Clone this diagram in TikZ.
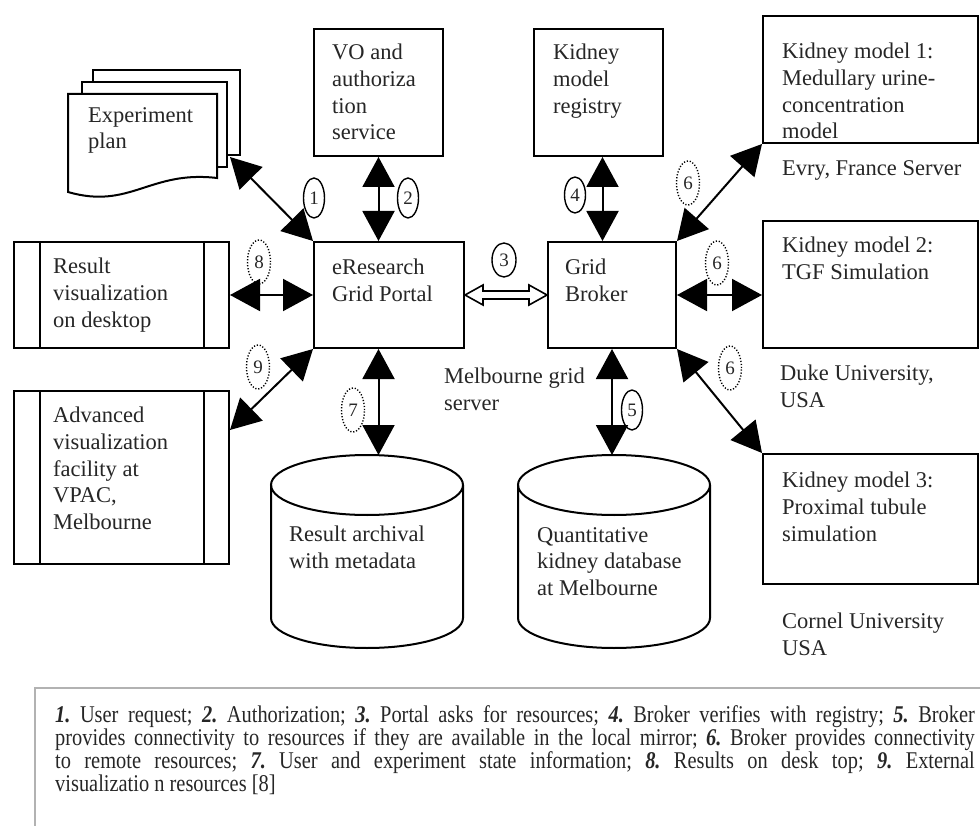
\documentclass[tikz,border=0pt]{standalone}
\usepackage{fontspec}
\setmainfont{Liberation Serif}
\usetikzlibrary{arrows.meta,calc,shapes.geometric}
\begin{document}
\begin{tikzpicture}[x=1pt,y=-1pt,
  box/.style={draw, line width=2pt, fill=white, anchor=north west, inner sep=0pt},
  txt/.style={anchor=north west, align=left, inner sep=0pt, text=black!85,
    font=\fontsize{22.5}{26.7}\selectfont},
  num/.style={ellipse, draw, line width=1.4pt, minimum width=21pt, minimum height=40pt,
    inner sep=0pt, text=black!85, font=\fontsize{19}{20}\selectfont},
  dnum/.style={num, dash pattern=on 1.2pt off 1.8pt},
  link/.style={line width=2pt, {Triangle[length=30pt,width=32pt]}-{Triangle[length=30pt,width=32pt]}},
  leg/.style={anchor=base west, inner sep=0pt, text=black!85, font=\fontsize{24}{23}\selectfont\frenchspacing},
]
\useasboundingbox (0,0) rectangle (980,826);

% ---- experiment plan (stack of documents)
\draw[line width=2pt, fill=white] (93,70) rectangle (240,155);
\draw[line width=2pt, fill=white] (82,82) rectangle (227,167);
\draw[line width=2pt, fill=white] (68,94) -- (217,94) -- (217,178)
  .. controls (150,170) and (130,210) .. (68,192) -- cycle;
\node[txt] (plan) at (88,107) {Experiment\\plan};
\coordinate (planc) at (230,157);

% ---- boxes
\node[box, minimum width=129pt, minimum height=127pt] (vo) at (313,28) {};
\node[txt] at (332,44) {VO and\\authoriza\\tion\\service};

\node[box, minimum width=129pt, minimum height=127pt] (registry) at (533,28) {};
\node[txt] at (553,44) {Kidney\\model\\registry};

\node[box, minimum width=215pt, minimum height=127pt] (km1) at (762,15) {};
\node[txt] at (782,43) {Kidney model 1:\\Medullary urine-\\concentration\\model};
\node[txt] at (782,160) {Evry, France Server};

\node[box, minimum width=215pt, minimum height=127pt] (km2) at (762,220) {};
\node[txt] at (782,237) {Kidney model 2:\\TGF Simulation};
\node[txt] at (780,365) {Duke University,\\USA};

\node[box, minimum width=215pt, minimum height=130pt] (km3) at (762,453) {};
\node[txt] at (782,472) {Kidney model 3:\\Proximal tubule\\simulation};
\node[txt] at (782,613) {Cornel University\\USA};

\node[box, minimum width=150pt, minimum height=106pt] (portal) at (313,241) {};
\node[txt] at (332,259) {eResearch\\Grid Portal};

\node[box, minimum width=128pt, minimum height=106pt] (broker) at (547,241) {};
\node[txt] at (565,259) {Grid\\Broker};

\node[txt] (mel) at (444,368) {Melbourne grid\\server};

\node[box, minimum width=215pt, minimum height=106pt] (desk) at (13,241) {};
\draw[line width=2pt] ($(desk.north west)+(27,0)$) -- ($(desk.south west)+(27,0)$);
\draw[line width=2pt] ($(desk.north east)+(-26,0)$) -- ($(desk.south east)+(-26,0)$);
\node[txt] at (53,258) {Result\\visualization\\on desktop};

\node[box, minimum width=215pt, minimum height=173pt] (adv) at (13,390) {};
\draw[line width=2pt] ($(adv.north west)+(27,0)$) -- ($(adv.south west)+(27,0)$);
\draw[line width=2pt] ($(adv.north east)+(-26,0)$) -- ($(adv.south east)+(-26,0)$);
\node[txt] at (53,407) {Advanced\\visualization\\facility at\\VPAC,\\Melbourne};

% ---- databases (cylinders)
\coordinate (archc) at (367,485);
\coordinate (archtop) at (367,455);
\draw[line width=2pt, fill=white] (271,485) -- (271,618)
  arc[start angle=180, end angle=0, x radius=96, y radius=30] -- (463,485);
\draw[line width=2pt] (archc) ellipse [x radius=96, y radius=30];
\node[txt] at (289,526) {Result archival\\with metadata};

\coordinate (quantc) at (614,485);
\coordinate (quanttop) at (614,455);
\draw[line width=2pt, fill=white] (518,485) -- (518,618)
  arc[start angle=180, end angle=0, x radius=96, y radius=30] -- (710,485);
\draw[line width=2pt] (quantc) ellipse [x radius=96, y radius=30];
\node[txt] at (537,527) {Quantitative\\kidney database\\at Melbourne};

% ---- connectors
\draw[link] (planc) -- (portal.north west);
\draw[link] (vo.south) -- (vo.south |- portal.north);
\coordinate (r4) at ($(registry.south)+(4,0)$);
\draw[link] (r4) -- (r4 |- broker.north);
\draw[link] (broker.south) -- (broker.south |- quanttop);
\draw[link] (vo.south |- portal.south) -- (vo.south |- archtop);
\draw[link] (broker.north east) -- (km1.south west);
\draw[link] (broker.east) -- (broker.east -| km2.west);
\draw[link] (broker.south east) -- (km3.north west);
\draw[link] (desk.east) -- (desk.east -| portal.west);
\draw[link] (portal.south west) -- ($(adv.north east)+(0,40)$);

% hollow double arrow between portal and broker
\draw[line width=1.6pt, fill=white, line join=miter]
  (portal.east) -- ++(18,-10) -- ++(0,6) -- ($(broker.west)+(-18,-4)$) -- ++(0,-6)
  -- (broker.west) -- ++(-18,10) -- ++(0,-6) -- ($(portal.east)+(18,4)$) -- ++(0,6) -- cycle;

% ---- step numbers
\node[num] (n1) at (314,198) {1};
\node[num] (n2) at (408,198) {2};
\node[num, minimum width=24pt, minimum height=34pt] (n3) at (504,260) {3};
\node[num, minimum height=36pt] (n4) at (575,195) {4};
\node[num] (n5) at (632,410) {5};
\node[dnum, minimum width=23pt, minimum height=44pt] (n6a) at (688,183) {6};
\node[dnum, minimum width=23pt, minimum height=44pt] (n6b) at (717,263) {6};
\node[dnum, minimum width=23pt, minimum height=44pt] (n6c) at (730,368) {6};
\node[dnum, minimum width=23pt, minimum height=44pt] (n7) at (353,410) {7};
\node[dnum, minimum width=23pt, minimum height=44pt] (n8) at (259,262) {8};
\node[dnum, minimum width=23pt, minimum height=44pt] (n9) at (258,367) {9};

% ---- legend
\draw[gray!60, line width=2.5pt] (35,840) -- (35,688) -- (990,688);
\newcommand{\stepno}[1]{\textbf{\textit{#1.}}}
\node[leg] (l1) at (55,722) {\scalebox{0.85}[1]{\makebox[1082pt][s]{\stepno{1} User request; \stepno{2} Authorization; \stepno{3} Portal asks for resources; \stepno{4} Broker verifies with registry; \stepno{5} Broker}}};
\node[leg] (l2) at (55,745) {\scalebox{0.85}[1]{\makebox[1082pt][s]{provides connectivity to resources if they are available in the local mirror; \stepno{6} Broker provides connectivity}}};
\node[leg] (l3) at (55,768) {\scalebox{0.85}[1]{\makebox[1082pt][s]{to remote resources; \stepno{7} User and experiment state information; \stepno{8} Results on desk top; \stepno{9} External}}};
\node[leg] (l4) at (55,791) {\scalebox{0.85}[1]{visualizatio n resources [8]}};
\end{tikzpicture}
\end{document}
